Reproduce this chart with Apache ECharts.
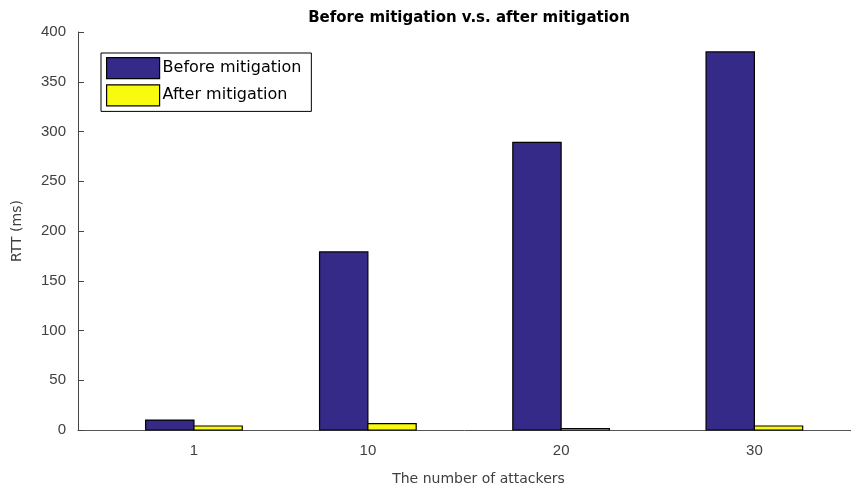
<!DOCTYPE html>
<html>
<head>
<meta charset="utf-8">
<script src="https://cdn.jsdelivr.net/npm/echarts@6/dist/echarts.min.js"></script>
<style>
  html, body { margin: 0; padding: 0; background: #fff; }
  #chart { width: 851px; height: 489px; }
</style>
</head>
<body>
<div id="chart"></div>
<script>
// Number of attackers (numeric x positions of each bar group)
const attackers = [1, 10, 20, 30];
// Round-trip time in ms
const beforeMitigation = [10, 179, 289, 380];
const afterMitigation = [4, 6.5, 1.5, 4];
const yTicks = [0, 50, 100, 150, 200, 250, 300, 350, 400];

const seriesNames = ['Before mitigation', 'After mitigation'];
const seriesColors = ['#352A87', '#F9FB0E'];
const barUnits = 2.5; // width of one bar in x-axis units

function makeRender(offsetSign) {
  return function (params, api) {
    const x = api.value(0);
    const y = api.value(1);
    const w = api.size([barUnits, 0])[0];
    const top = api.coord([x, y]);
    const base = api.coord([x, 0]);
    const left = offsetSign < 0 ? top[0] - w : top[0];
    return {
      type: 'rect',
      shape: { x: left, y: top[1], width: w, height: base[1] - top[1] },
      style: api.style({ fill: seriesColors[params.seriesIndex], stroke: '#000', lineWidth: 1.2 })
    };
  };
}

const chart = echarts.init(document.getElementById('chart'), null, { renderer: 'canvas' });
const sansFont = 'Liberation Sans, Arial, sans-serif';
const wideFont = 'DejaVu Sans, Liberation Sans, sans-serif';

chart.setOption({
  animation: false,
  backgroundColor: '#fff',
  title: {
    text: 'Before mitigation v.s. after mitigation',
    left: 464, top: 6, textAlign: 'center',
    textStyle: { fontFamily: wideFont, fontSize: 15, fontWeight: 'bold', color: '#000' }
  },
  grid: { left: 78, right: 0, top: 32, bottom: 59, containLabel: false, outerBoundsMode: 'none' },
  legend: {
    orient: 'vertical',
    left: 101, top: 53,
    padding: [4, 10, 5, 5],
    borderColor: '#000', borderWidth: 1,
    backgroundColor: '#fff',
    itemWidth: 53, itemHeight: 21, itemGap: 5,
    icon: 'rect',
    textStyle: { fontFamily: wideFont, fontSize: 16, color: '#000', padding: [0, 0, 0, -2] },
    data: seriesNames.map((n, i) => ({
      name: n,
      itemStyle: { color: seriesColors[i], borderColor: '#000', borderWidth: 1.2 }
    }))
  },
  xAxis: {
    type: 'value',
    min: -5, max: 35,
    name: 'The number of attackers',
    nameLocation: 'middle', nameGap: 42,
    nameTextStyle: { fontFamily: wideFont, fontSize: 14, color: '#404040', padding: [0, 0, 0, 28] },
    axisLine: { show: true, onZero: false, lineStyle: { color: '#555', width: 1 } },
    axisTick: { show: false },
    axisLabel: { customValues: attackers, fontFamily: sansFont, fontSize: 15, color: '#404040', margin: 13 },
    splitLine: { show: false }
  },
  yAxis: {
    type: 'value',
    min: 0, max: 400, interval: 50,
    name: 'RTT (ms)',
    nameLocation: 'middle', nameGap: 54,
    nameTextStyle: { fontFamily: wideFont, fontSize: 14, color: '#404040' },
    axisLine: { show: true, onZero: false, lineStyle: { color: '#444', width: 1 } },
    axisTick: { show: true, inside: true, length: 6, lineStyle: { color: '#444' } },
    axisLabel: { fontFamily: sansFont, fontSize: 15, color: '#404040', margin: 12,
      formatter: v => (yTicks.indexOf(v) >= 0 ? String(v) : '') },
    splitLine: { show: false }
  },
  series: [
    {
      name: seriesNames[0], type: 'custom',
      itemStyle: { color: seriesColors[0], borderColor: '#000', borderWidth: 1.2 },
      renderItem: makeRender(-1),
      data: attackers.map((a, i) => [a, beforeMitigation[i]]),
      z: 2
    },
    {
      name: seriesNames[1], type: 'custom',
      itemStyle: { color: seriesColors[1], borderColor: '#000', borderWidth: 1.2 },
      renderItem: makeRender(1),
      data: attackers.map((a, i) => [a, afterMitigation[i]]),
      z: 2
    }
  ]
});
</script>
</body>
</html>
